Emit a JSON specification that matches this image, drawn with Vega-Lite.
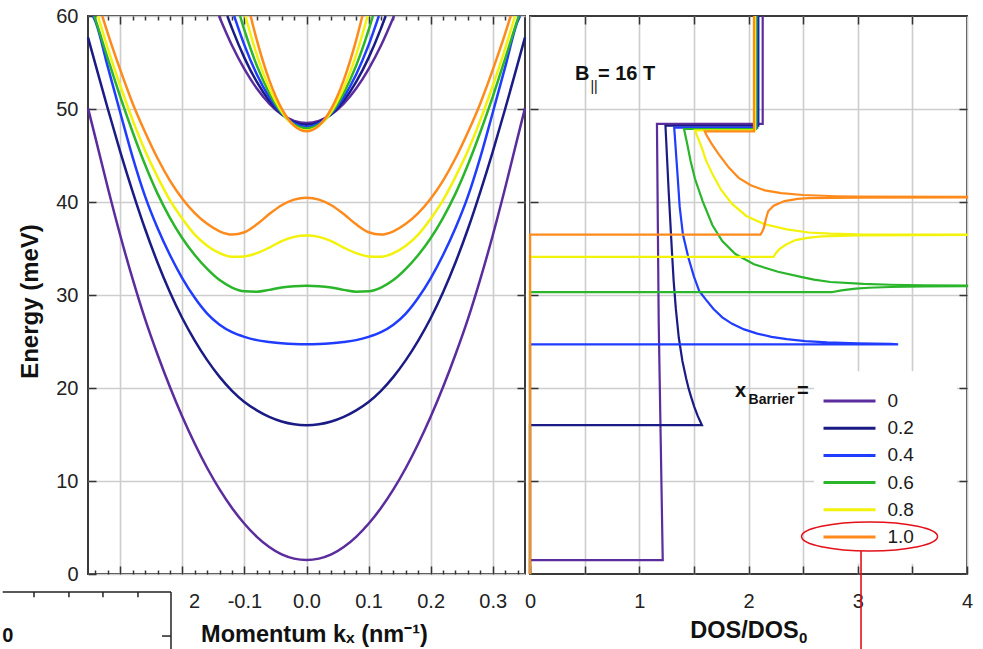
{
  "$schema": "https://vega.github.io/schema/vega-lite/v6.json",
  "background": "white",
  "padding": {"left": 0, "top": 5, "right": 10, "bottom": 0},
  "autosize": {"type": "pad"},
  "bounds": "flush",
  "spacing": 5,
  "config": {
    "font": "Liberation Sans",
    "view": {"stroke": "#3a3a3a", "strokeWidth": 2},
    "axis": {
      "domain": false,
      "labelFlush": false,
      "labelFont": "Liberation Sans",
      "labelFontSize": 20,
      "labelColor": "#222222",
      "titleFont": "Liberation Sans",
      "titleFontSize": 23.5,
      "titleFontWeight": "bold",
      "titleColor": "#111111",
      "gridColor": "#cdcdcd",
      "gridWidth": 1.6,
      "tickColor": "#333333",
      "tickWidth": 1.5
    }
  },
  "datasets": {
    "bands": [
      {"s":"0","b":"L","k":-0.352,"E":50.1},{"s":"0","b":"L","k":-0.34,"E":46.9},{"s":"0","b":"L","k":-0.32,"E":41.5},{"s":"0","b":"L","k":-0.3,"E":36.4},{"s":"0","b":"L","k":-0.28,"E":31.7},{"s":"0","b":"L","k":-0.26,"E":27.4},{"s":"0","b":"L","k":-0.24,"E":23.6},{"s":"0","b":"L","k":-0.22,"E":20.1},{"s":"0","b":"L","k":-0.2,"E":16.9},{"s":"0","b":"L","k":-0.18,"E":14.0},{"s":"0","b":"L","k":-0.16,"E":11.4},{"s":"0","b":"L","k":-0.14,"E":9.1},{"s":"0","b":"L","k":-0.12,"E":7.1},{"s":"0","b":"L","k":-0.1,"E":5.4},{"s":"0","b":"L","k":-0.08,"E":4.0},{"s":"0","b":"L","k":-0.06,"E":2.9},{"s":"0","b":"L","k":-0.04,"E":2.1},{"s":"0","b":"L","k":-0.02,"E":1.65},{"s":"0","b":"L","k":0,"E":1.5},{"s":"0","b":"L","k":0.02,"E":1.65},{"s":"0","b":"L","k":0.04,"E":2.1},{"s":"0","b":"L","k":0.06,"E":2.9},{"s":"0","b":"L","k":0.08,"E":4.0},{"s":"0","b":"L","k":0.1,"E":5.4},{"s":"0","b":"L","k":0.12,"E":7.1},{"s":"0","b":"L","k":0.14,"E":9.1},{"s":"0","b":"L","k":0.16,"E":11.4},{"s":"0","b":"L","k":0.18,"E":14.0},{"s":"0","b":"L","k":0.2,"E":16.9},{"s":"0","b":"L","k":0.22,"E":20.1},{"s":"0","b":"L","k":0.24,"E":23.6},{"s":"0","b":"L","k":0.26,"E":27.4},{"s":"0","b":"L","k":0.28,"E":31.7},{"s":"0","b":"L","k":0.3,"E":36.4},{"s":"0","b":"L","k":0.32,"E":41.5},{"s":"0","b":"L","k":0.34,"E":46.9},{"s":"0","b":"L","k":0.352,"E":50.1},
      {"s":"0","b":"U","k":-0.141,"E":60},{"s":"0","b":"U","k":-0.12,"E":56.82},{"s":"0","b":"U","k":-0.1,"E":54.28},{"s":"0","b":"U","k":-0.08,"E":52.2},{"s":"0","b":"U","k":-0.06,"E":50.58},{"s":"0","b":"U","k":-0.04,"E":49.42},{"s":"0","b":"U","k":-0.02,"E":48.73},{"s":"0","b":"U","k":0,"E":48.5},{"s":"0","b":"U","k":0.02,"E":48.73},{"s":"0","b":"U","k":0.04,"E":49.42},{"s":"0","b":"U","k":0.06,"E":50.58},{"s":"0","b":"U","k":0.08,"E":52.2},{"s":"0","b":"U","k":0.1,"E":54.28},{"s":"0","b":"U","k":0.12,"E":56.82},{"s":"0","b":"U","k":0.141,"E":60},
      {"s":"0.2","b":"L","k":-0.352,"E":57.7},{"s":"0.2","b":"L","k":-0.34,"E":54.8},{"s":"0.2","b":"L","k":-0.32,"E":50.0},{"s":"0.2","b":"L","k":-0.3,"E":45.4},{"s":"0.2","b":"L","k":-0.28,"E":41.1},{"s":"0.2","b":"L","k":-0.26,"E":37.1},{"s":"0.2","b":"L","k":-0.24,"E":33.5},{"s":"0.2","b":"L","k":-0.22,"E":30.3},{"s":"0.2","b":"L","k":-0.2,"E":27.5},{"s":"0.2","b":"L","k":-0.18,"E":25.1},{"s":"0.2","b":"L","k":-0.16,"E":23.0},{"s":"0.2","b":"L","k":-0.14,"E":21.2},{"s":"0.2","b":"L","k":-0.12,"E":19.7},{"s":"0.2","b":"L","k":-0.1,"E":18.5},{"s":"0.2","b":"L","k":-0.08,"E":17.6},{"s":"0.2","b":"L","k":-0.06,"E":16.9},{"s":"0.2","b":"L","k":-0.04,"E":16.4},{"s":"0.2","b":"L","k":-0.02,"E":16.1},{"s":"0.2","b":"L","k":0,"E":16.0},{"s":"0.2","b":"L","k":0.02,"E":16.1},{"s":"0.2","b":"L","k":0.04,"E":16.4},{"s":"0.2","b":"L","k":0.06,"E":16.9},{"s":"0.2","b":"L","k":0.08,"E":17.6},{"s":"0.2","b":"L","k":0.1,"E":18.5},{"s":"0.2","b":"L","k":0.12,"E":19.7},{"s":"0.2","b":"L","k":0.14,"E":21.2},{"s":"0.2","b":"L","k":0.16,"E":23.0},{"s":"0.2","b":"L","k":0.18,"E":25.1},{"s":"0.2","b":"L","k":0.2,"E":27.5},{"s":"0.2","b":"L","k":0.22,"E":30.3},{"s":"0.2","b":"L","k":0.24,"E":33.5},{"s":"0.2","b":"L","k":0.26,"E":37.1},{"s":"0.2","b":"L","k":0.28,"E":41.1},{"s":"0.2","b":"L","k":0.3,"E":45.4},{"s":"0.2","b":"L","k":0.32,"E":50.0},{"s":"0.2","b":"L","k":0.34,"E":54.8},{"s":"0.2","b":"L","k":0.352,"E":57.7},
      {"s":"0.2","b":"U","k":-0.1275,"E":60},{"s":"0.2","b":"U","k":-0.12,"E":58.67},{"s":"0.2","b":"U","k":-0.1,"E":55.5},{"s":"0.2","b":"U","k":-0.08,"E":52.91},{"s":"0.2","b":"U","k":-0.06,"E":50.89},{"s":"0.2","b":"U","k":-0.04,"E":49.45},{"s":"0.2","b":"U","k":-0.02,"E":48.59},{"s":"0.2","b":"U","k":0,"E":48.3},{"s":"0.2","b":"U","k":0.02,"E":48.59},{"s":"0.2","b":"U","k":0.04,"E":49.45},{"s":"0.2","b":"U","k":0.06,"E":50.89},{"s":"0.2","b":"U","k":0.08,"E":52.91},{"s":"0.2","b":"U","k":0.1,"E":55.5},{"s":"0.2","b":"U","k":0.12,"E":58.67},{"s":"0.2","b":"U","k":0.1275,"E":60},
      {"s":"0.4","b":"L","k":-0.344,"E":60},{"s":"0.4","b":"L","k":-0.34,"E":59.4},{"s":"0.4","b":"L","k":-0.32,"E":54.5},{"s":"0.4","b":"L","k":-0.3,"E":49.6},{"s":"0.4","b":"L","k":-0.28,"E":44.8},{"s":"0.4","b":"L","k":-0.26,"E":40.6},{"s":"0.4","b":"L","k":-0.24,"E":37.2},{"s":"0.4","b":"L","k":-0.22,"E":34.3},{"s":"0.4","b":"L","k":-0.2,"E":31.8},{"s":"0.4","b":"L","k":-0.18,"E":29.7},{"s":"0.4","b":"L","k":-0.16,"E":28.0},{"s":"0.4","b":"L","k":-0.14,"E":26.8},{"s":"0.4","b":"L","k":-0.12,"E":26.0},{"s":"0.4","b":"L","k":-0.1,"E":25.5},{"s":"0.4","b":"L","k":-0.08,"E":25.15},{"s":"0.4","b":"L","k":-0.06,"E":24.95},{"s":"0.4","b":"L","k":-0.04,"E":24.8},{"s":"0.4","b":"L","k":-0.02,"E":24.72},{"s":"0.4","b":"L","k":0,"E":24.7},{"s":"0.4","b":"L","k":0.02,"E":24.72},{"s":"0.4","b":"L","k":0.04,"E":24.8},{"s":"0.4","b":"L","k":0.06,"E":24.95},{"s":"0.4","b":"L","k":0.08,"E":25.15},{"s":"0.4","b":"L","k":0.1,"E":25.5},{"s":"0.4","b":"L","k":0.12,"E":26.0},{"s":"0.4","b":"L","k":0.14,"E":26.8},{"s":"0.4","b":"L","k":0.16,"E":28.0},{"s":"0.4","b":"L","k":0.18,"E":29.7},{"s":"0.4","b":"L","k":0.2,"E":31.8},{"s":"0.4","b":"L","k":0.22,"E":34.3},{"s":"0.4","b":"L","k":0.24,"E":37.2},{"s":"0.4","b":"L","k":0.26,"E":40.6},{"s":"0.4","b":"L","k":0.28,"E":44.8},{"s":"0.4","b":"L","k":0.3,"E":49.6},{"s":"0.4","b":"L","k":0.32,"E":54.5},{"s":"0.4","b":"L","k":0.34,"E":59.4},{"s":"0.4","b":"L","k":0.344,"E":60},
      {"s":"0.4","b":"U","k":-0.1165,"E":60},{"s":"0.4","b":"U","k":-0.1,"E":56.87},{"s":"0.4","b":"U","k":-0.08,"E":53.71},{"s":"0.4","b":"U","k":-0.06,"E":51.26},{"s":"0.4","b":"U","k":-0.04,"E":49.5},{"s":"0.4","b":"U","k":-0.02,"E":48.45},{"s":"0.4","b":"U","k":0,"E":48.1},{"s":"0.4","b":"U","k":0.02,"E":48.45},{"s":"0.4","b":"U","k":0.04,"E":49.5},{"s":"0.4","b":"U","k":0.06,"E":51.26},{"s":"0.4","b":"U","k":0.08,"E":53.71},{"s":"0.4","b":"U","k":0.1,"E":56.87},{"s":"0.4","b":"U","k":0.1165,"E":60},
      {"s":"0.6","b":"L","k":-0.342,"E":60},{"s":"0.6","b":"L","k":-0.34,"E":59.6},{"s":"0.6","b":"L","k":-0.32,"E":55.4},{"s":"0.6","b":"L","k":-0.3,"E":51.3},{"s":"0.6","b":"L","k":-0.28,"E":47.5},{"s":"0.6","b":"L","k":-0.26,"E":44.0},{"s":"0.6","b":"L","k":-0.24,"E":40.9},{"s":"0.6","b":"L","k":-0.22,"E":38.3},{"s":"0.6","b":"L","k":-0.2,"E":36.1},{"s":"0.6","b":"L","k":-0.18,"E":34.3},{"s":"0.6","b":"L","k":-0.16,"E":32.8},{"s":"0.6","b":"L","k":-0.14,"E":31.6},{"s":"0.6","b":"L","k":-0.12,"E":30.8},{"s":"0.6","b":"L","k":-0.1,"E":30.4},{"s":"0.6","b":"L","k":-0.08,"E":30.35},{"s":"0.6","b":"L","k":-0.06,"E":30.55},{"s":"0.6","b":"L","k":-0.04,"E":30.8},{"s":"0.6","b":"L","k":-0.02,"E":30.95},{"s":"0.6","b":"L","k":0,"E":31.0},{"s":"0.6","b":"L","k":0.02,"E":30.95},{"s":"0.6","b":"L","k":0.04,"E":30.8},{"s":"0.6","b":"L","k":0.06,"E":30.55},{"s":"0.6","b":"L","k":0.08,"E":30.35},{"s":"0.6","b":"L","k":0.1,"E":30.4},{"s":"0.6","b":"L","k":0.12,"E":30.8},{"s":"0.6","b":"L","k":0.14,"E":31.6},{"s":"0.6","b":"L","k":0.16,"E":32.8},{"s":"0.6","b":"L","k":0.18,"E":34.3},{"s":"0.6","b":"L","k":0.2,"E":36.1},{"s":"0.6","b":"L","k":0.22,"E":38.3},{"s":"0.6","b":"L","k":0.24,"E":40.9},{"s":"0.6","b":"L","k":0.26,"E":44.0},{"s":"0.6","b":"L","k":0.28,"E":47.5},{"s":"0.6","b":"L","k":0.3,"E":51.3},{"s":"0.6","b":"L","k":0.32,"E":55.4},{"s":"0.6","b":"L","k":0.34,"E":59.6},{"s":"0.6","b":"L","k":0.342,"E":60},
      {"s":"0.6","b":"U","k":-0.107,"E":60},{"s":"0.6","b":"U","k":-0.1,"E":58.47},{"s":"0.6","b":"U","k":-0.08,"E":54.66},{"s":"0.6","b":"U","k":-0.06,"E":51.71},{"s":"0.6","b":"U","k":-0.04,"E":49.59},{"s":"0.6","b":"U","k":-0.02,"E":48.32},{"s":"0.6","b":"U","k":0,"E":47.9},{"s":"0.6","b":"U","k":0.02,"E":48.32},{"s":"0.6","b":"U","k":0.04,"E":49.59},{"s":"0.6","b":"U","k":0.06,"E":51.71},{"s":"0.6","b":"U","k":0.08,"E":54.66},{"s":"0.6","b":"U","k":0.1,"E":58.47},{"s":"0.6","b":"U","k":0.107,"E":60},
      {"s":"0.8","b":"L","k":-0.336,"E":60},{"s":"0.8","b":"L","k":-0.32,"E":56.5},{"s":"0.8","b":"L","k":-0.3,"E":52.5},{"s":"0.8","b":"L","k":-0.28,"E":48.8},{"s":"0.8","b":"L","k":-0.26,"E":45.5},{"s":"0.8","b":"L","k":-0.24,"E":42.7},{"s":"0.8","b":"L","k":-0.22,"E":40.2},{"s":"0.8","b":"L","k":-0.2,"E":38.2},{"s":"0.8","b":"L","k":-0.18,"E":36.5},{"s":"0.8","b":"L","k":-0.16,"E":35.3},{"s":"0.8","b":"L","k":-0.14,"E":34.5},{"s":"0.8","b":"L","k":-0.12,"E":34.1},{"s":"0.8","b":"L","k":-0.1,"E":34.15},{"s":"0.8","b":"L","k":-0.08,"E":34.5},{"s":"0.8","b":"L","k":-0.06,"E":35.1},{"s":"0.8","b":"L","k":-0.04,"E":35.8},{"s":"0.8","b":"L","k":-0.02,"E":36.25},{"s":"0.8","b":"L","k":0,"E":36.4},{"s":"0.8","b":"L","k":0.02,"E":36.25},{"s":"0.8","b":"L","k":0.04,"E":35.8},{"s":"0.8","b":"L","k":0.06,"E":35.1},{"s":"0.8","b":"L","k":0.08,"E":34.5},{"s":"0.8","b":"L","k":0.1,"E":34.15},{"s":"0.8","b":"L","k":0.12,"E":34.1},{"s":"0.8","b":"L","k":0.14,"E":34.5},{"s":"0.8","b":"L","k":0.16,"E":35.3},{"s":"0.8","b":"L","k":0.18,"E":36.5},{"s":"0.8","b":"L","k":0.2,"E":38.2},{"s":"0.8","b":"L","k":0.22,"E":40.2},{"s":"0.8","b":"L","k":0.24,"E":42.7},{"s":"0.8","b":"L","k":0.26,"E":45.5},{"s":"0.8","b":"L","k":0.28,"E":48.8},{"s":"0.8","b":"L","k":0.3,"E":52.5},{"s":"0.8","b":"L","k":0.32,"E":56.5},{"s":"0.8","b":"L","k":0.336,"E":60},
      {"s":"0.8","b":"U","k":-0.0985,"E":60},{"s":"0.8","b":"U","k":-0.08,"E":55.82},{"s":"0.8","b":"U","k":-0.06,"E":52.26},{"s":"0.8","b":"U","k":-0.04,"E":49.73},{"s":"0.8","b":"U","k":-0.02,"E":48.21},{"s":"0.8","b":"U","k":0,"E":47.7},{"s":"0.8","b":"U","k":0.02,"E":48.21},{"s":"0.8","b":"U","k":0.04,"E":49.73},{"s":"0.8","b":"U","k":0.06,"E":52.26},{"s":"0.8","b":"U","k":0.08,"E":55.82},{"s":"0.8","b":"U","k":0.0985,"E":60},
      {"s":"1.0","b":"L","k":-0.329,"E":60},{"s":"1.0","b":"L","k":-0.32,"E":58.1},{"s":"1.0","b":"L","k":-0.3,"E":54.2},{"s":"1.0","b":"L","k":-0.28,"E":50.6},{"s":"1.0","b":"L","k":-0.26,"E":47.5},{"s":"1.0","b":"L","k":-0.24,"E":44.7},{"s":"1.0","b":"L","k":-0.22,"E":42.3},{"s":"1.0","b":"L","k":-0.2,"E":40.35},{"s":"1.0","b":"L","k":-0.18,"E":38.8},{"s":"1.0","b":"L","k":-0.16,"E":37.65},{"s":"1.0","b":"L","k":-0.14,"E":36.85},{"s":"1.0","b":"L","k":-0.12,"E":36.5},{"s":"1.0","b":"L","k":-0.1,"E":36.75},{"s":"1.0","b":"L","k":-0.08,"E":37.6},{"s":"1.0","b":"L","k":-0.06,"E":38.7},{"s":"1.0","b":"L","k":-0.04,"E":39.65},{"s":"1.0","b":"L","k":-0.02,"E":40.25},{"s":"1.0","b":"L","k":0,"E":40.45},{"s":"1.0","b":"L","k":0.02,"E":40.25},{"s":"1.0","b":"L","k":0.04,"E":39.65},{"s":"1.0","b":"L","k":0.06,"E":38.7},{"s":"1.0","b":"L","k":0.08,"E":37.6},{"s":"1.0","b":"L","k":0.1,"E":36.75},{"s":"1.0","b":"L","k":0.12,"E":36.5},{"s":"1.0","b":"L","k":0.14,"E":36.85},{"s":"1.0","b":"L","k":0.16,"E":37.65},{"s":"1.0","b":"L","k":0.18,"E":38.8},{"s":"1.0","b":"L","k":0.2,"E":40.35},{"s":"1.0","b":"L","k":0.22,"E":42.3},{"s":"1.0","b":"L","k":0.24,"E":44.7},{"s":"1.0","b":"L","k":0.26,"E":47.5},{"s":"1.0","b":"L","k":0.28,"E":50.6},{"s":"1.0","b":"L","k":0.3,"E":54.2},{"s":"1.0","b":"L","k":0.32,"E":58.1},{"s":"1.0","b":"L","k":0.329,"E":60},
      {"s":"1.0","b":"U","k":-0.09,"E":60},{"s":"1.0","b":"U","k":-0.08,"E":57.4},{"s":"1.0","b":"U","k":-0.06,"E":53.11},{"s":"1.0","b":"U","k":-0.04,"E":50.05},{"s":"1.0","b":"U","k":-0.02,"E":48.21},{"s":"1.0","b":"U","k":0,"E":47.6},{"s":"1.0","b":"U","k":0.02,"E":48.21},{"s":"1.0","b":"U","k":0.04,"E":50.05},{"s":"1.0","b":"U","k":0.06,"E":53.11},{"s":"1.0","b":"U","k":0.08,"E":57.4},{"s":"1.0","b":"U","k":0.09,"E":60}
    ],
    "dos": [
      {"s":"0","d":0,"E":0},{"s":"0","d":0,"E":1.5},{"s":"0","d":1.215,"E":1.5},{"s":"0","d":1.178,"E":27.2},{"s":"0","d":1.162,"E":48.4},{"s":"0","d":2.13,"E":48.4},{"s":"0","d":2.13,"E":60},
      {"s":"0.2","d":0,"E":0},{"s":"0.2","d":0,"E":16},{"s":"0.2","d":1.574,"E":16},{"s":"0.2","d":1.535,"E":17},{"s":"0.2","d":1.503,"E":18},{"s":"0.2","d":1.476,"E":19},{"s":"0.2","d":1.453,"E":19.9},{"s":"0.2","d":1.43,"E":21},{"s":"0.2","d":1.395,"E":22.9},{"s":"0.2","d":1.362,"E":25.4},{"s":"0.2","d":1.335,"E":28.5},{"s":"0.2","d":1.315,"E":31.5},{"s":"0.2","d":1.3,"E":34.5},{"s":"0.2","d":1.27,"E":41},{"s":"0.2","d":1.24,"E":48.2},{"s":"0.2","d":2.09,"E":48.2},{"s":"0.2","d":2.09,"E":60},
      {"s":"0.4","d":0,"E":0},{"s":"0.4","d":0,"E":24.7},{"s":"0.4","d":3.37,"E":24.7},{"s":"0.4","d":3.3,"E":24.75},{"s":"0.4","d":3.0,"E":24.8},{"s":"0.4","d":2.72,"E":24.9},{"s":"0.4","d":2.52,"E":25.05},{"s":"0.4","d":2.35,"E":25.25},{"s":"0.4","d":2.21,"E":25.5},{"s":"0.4","d":2.08,"E":25.85},{"s":"0.4","d":1.96,"E":26.3},{"s":"0.4","d":1.85,"E":26.9},{"s":"0.4","d":1.76,"E":27.6},{"s":"0.4","d":1.68,"E":28.5},{"s":"0.4","d":1.61,"E":29.5},{"s":"0.4","d":1.55,"E":30.4},{"s":"0.4","d":1.5,"E":32},{"s":"0.4","d":1.45,"E":34},{"s":"0.4","d":1.4,"E":36.5},{"s":"0.4","d":1.37,"E":39.5},{"s":"0.4","d":1.35,"E":43},{"s":"0.4","d":1.32,"E":48.0},{"s":"0.4","d":2.08,"E":48.0},{"s":"0.4","d":2.08,"E":60},
      {"s":"0.6","d":0,"E":0},{"s":"0.6","d":0,"E":30.3},{"s":"0.6","d":2.76,"E":30.3},{"s":"0.6","d":2.85,"E":30.5},{"s":"0.6","d":2.98,"E":30.68},{"s":"0.6","d":3.1,"E":30.78},{"s":"0.6","d":3.3,"E":30.86},{"s":"0.6","d":3.6,"E":30.92},{"s":"0.6","d":4.0,"E":30.96},{"s":"0.6","d":4.0,"E":31.0},{"s":"0.6","d":3.6,"E":31.04},{"s":"0.6","d":3.3,"E":31.1},{"s":"0.6","d":3.05,"E":31.2},{"s":"0.6","d":2.75,"E":31.4},{"s":"0.6","d":2.6,"E":31.65},{"s":"0.6","d":2.5,"E":31.9},{"s":"0.6","d":2.27,"E":32.5},{"s":"0.6","d":2.05,"E":33.3},{"s":"0.6","d":1.88,"E":34.4},{"s":"0.6","d":1.76,"E":35.8},{"s":"0.6","d":1.67,"E":37.5},{"s":"0.6","d":1.58,"E":40.1},{"s":"0.6","d":1.51,"E":42.5},{"s":"0.6","d":1.47,"E":44.4},{"s":"0.6","d":1.44,"E":46.2},{"s":"0.6","d":1.41,"E":47.85},{"s":"0.6","d":2.07,"E":47.85},{"s":"0.6","d":2.07,"E":60},
      {"s":"0.8","d":0,"E":0},{"s":"0.8","d":0,"E":34.1},{"s":"0.8","d":2.23,"E":34.1},{"s":"0.8","d":2.25,"E":34.5},{"s":"0.8","d":2.28,"E":34.9},{"s":"0.8","d":2.34,"E":35.4},{"s":"0.8","d":2.43,"E":35.9},{"s":"0.8","d":2.54,"E":36.15},{"s":"0.8","d":2.67,"E":36.3},{"s":"0.8","d":3.0,"E":36.4},{"s":"0.8","d":4.0,"E":36.45},{"s":"0.8","d":4.0,"E":36.5},{"s":"0.8","d":3.0,"E":36.52},{"s":"0.8","d":2.75,"E":36.6},{"s":"0.8","d":2.55,"E":36.72},{"s":"0.8","d":2.35,"E":37.05},{"s":"0.8","d":2.15,"E":37.6},{"s":"0.8","d":1.98,"E":38.5},{"s":"0.8","d":1.85,"E":39.8},{"s":"0.8","d":1.75,"E":41.3},{"s":"0.8","d":1.67,"E":43.0},{"s":"0.8","d":1.61,"E":44.5},{"s":"0.8","d":1.574,"E":45.8},{"s":"0.8","d":1.54,"E":46.8},{"s":"0.8","d":1.51,"E":47.7},{"s":"0.8","d":2.06,"E":47.7},{"s":"0.8","d":2.06,"E":60},
      {"s":"1.0","d":0,"E":0},{"s":"1.0","d":0,"E":36.5},{"s":"1.0","d":2.11,"E":36.5},{"s":"1.0","d":2.125,"E":36.8},{"s":"1.0","d":2.14,"E":37.2},{"s":"1.0","d":2.16,"E":38.2},{"s":"1.0","d":2.18,"E":39.0},{"s":"1.0","d":2.23,"E":39.6},{"s":"1.0","d":2.33,"E":40.1},{"s":"1.0","d":2.45,"E":40.33},{"s":"1.0","d":2.55,"E":40.42},{"s":"1.0","d":3.0,"E":40.48},{"s":"1.0","d":4.0,"E":40.5},{"s":"1.0","d":4.0,"E":40.55},{"s":"1.0","d":3.0,"E":40.58},{"s":"1.0","d":2.8,"E":40.62},{"s":"1.0","d":2.5,"E":40.75},{"s":"1.0","d":2.3,"E":40.95},{"s":"1.0","d":2.15,"E":41.25},{"s":"1.0","d":2.02,"E":41.8},{"s":"1.0","d":1.91,"E":42.6},{"s":"1.0","d":1.82,"E":43.7},{"s":"1.0","d":1.73,"E":45.1},{"s":"1.0","d":1.66,"E":46.3},{"s":"1.0","d":1.61,"E":47.3},{"s":"1.0","d":1.6,"E":47.6},{"s":"1.0","d":2.05,"E":47.6},{"s":"1.0","d":2.05,"E":60}
    ],
    "insetTicks": [{"k": -0.439}, {"k": -0.3827}, {"k": -0.3279}, {"k": -0.2715}]
  },
  "resolve": {"legend": {"color": "independent"}},
  "hconcat": [
    {
      "width": 437,
      "height": 558,
      "resolve": {"axis": {"x": "independent", "y": "independent"}},
      "layer": [
        {
          "data": {"name": "bands"},
          "mark": {"type": "line", "interpolate": "monotone", "strokeWidth": 2.5},
          "encoding": {
            "x": {
              "field": "k", "type": "quantitative",
              "scale": {"domain": [-0.352, 0.352], "nice": false, "zero": false},
              "axis": {
                "orient": "bottom", "values": [-0.3, -0.2, -0.1, 0, 0.1, 0.2, 0.3],
                "labelExpr": "datum.value < -0.001 ? '-' + format(-datum.value, '.1f') : format(abs(datum.value), '.1f')",
                "grid": true, "tickSize": -8, "labelPadding": 25,
                "title": "Momentum kₓ (nm⁻¹)", "titleX": 226, "titleY": 67,
                "titleBaseline": "alphabetic", "titleAlign": "center"
              }
            },
            "y": {
              "field": "E", "type": "quantitative",
              "scale": {"domain": [0, 60], "nice": false, "zero": false},
              "axis": {
                "orient": "left", "values": [0, 10, 20, 30, 40, 50, 60],
                "grid": true, "tickSize": -8, "labelPadding": 18,
                "title": "Energy (meV)", "titleFontSize": 24, "titleX": -51, "titleY": 285, "titleAngle": -90,
                "titleBaseline": "alphabetic", "titleAlign": "center"
              }
            },
            "color": {
              "field": "s", "type": "nominal",
              "scale": {"domain": ["0", "0.2", "0.4", "0.6", "0.8", "1.0"], "range": ["#5b2c9d", "#1b1b86", "#1f3cff", "#2ab52a", "#f2f20a", "#ff8a1c"]},
              "legend": null
            },
            "detail": {"field": "b"}
          }
        },
        {
          "data": {"values": [{}]},
          "mark": {"type": "rect", "fill": "white"},
          "encoding": {
            "x": {
              "datum": -0.4906, "type": "quantitative",
              "axis": {
                "orient": "bottom",
                "values": [-0.34, -0.32, -0.28, -0.26, -0.24, -0.22, -0.18, -0.16, -0.14, -0.12, -0.08, -0.06, -0.04, -0.02, 0.02, 0.04, 0.06, 0.08, 0.12, 0.14, 0.16, 0.18, 0.22, 0.24, 0.26, 0.28, 0.32, 0.34],
                "tickSize": -4, "labels": false, "grid": false, "title": null
              }
            },
            "x2": {"datum": -0.1885},
            "y": {
              "datum": -1.45, "type": "quantitative",
              "axis": {"orient": "right", "values": [10, 20, 30, 40, 50], "tickSize": -8, "labels": false, "grid": false, "title": null}
            },
            "y2": {"datum": -9.6}
          }
        },
        {
          "data": {"values": [{}]},
          "mark": {"type": "rule", "stroke": "#222222", "strokeWidth": 1.5},
          "encoding": {
            "x": {
              "datum": -0.4894, "type": "quantitative",
              "axis": {"orient": "top", "values": [-0.3, -0.2, -0.1, 0, 0.1, 0.2, 0.3], "tickSize": -8, "labels": false, "grid": false, "title": null}
            },
            "x2": {"datum": -0.2183},
            "y": {"datum": -1.935, "type": "quantitative", "axis": null}
          }
        },
        {
          "data": {"name": "insetTicks"},
          "mark": {"type": "rule", "stroke": "#222222", "strokeWidth": 1.5},
          "encoding": {
            "x": {
              "field": "k", "type": "quantitative",
              "axis": {
                "orient": "top",
                "values": [-0.34, -0.32, -0.28, -0.26, -0.24, -0.22, -0.18, -0.16, -0.14, -0.12, -0.08, -0.06, -0.04, -0.02, 0.02, 0.04, 0.06, 0.08, 0.12, 0.14, 0.16, 0.18, 0.22, 0.24, 0.26, 0.28, 0.32, 0.34],
                "tickSize": -4, "labels": false, "grid": false, "title": null
              }
            },
            "y": {"datum": -1.935, "type": "quantitative", "axis": null},
            "y2": {"datum": -2.5}
          }
        },
        {
          "data": {"values": [{}]},
          "mark": {"type": "rule", "stroke": "#222222", "strokeWidth": 1.5},
          "encoding": {
            "x": {"datum": -0.2183, "type": "quantitative", "axis": null},
            "y": {"datum": -1.935, "type": "quantitative", "axis": null},
            "y2": {"datum": -9.6}
          }
        },
        {
          "data": {"values": [{}]},
          "mark": {"type": "rule", "stroke": "#222222", "strokeWidth": 1.5},
          "encoding": {
            "x": {"datum": -0.2328, "type": "quantitative", "axis": null},
            "x2": {"datum": -0.2183},
            "y": {"datum": -6.67, "type": "quantitative", "axis": null}
          }
        },
        {
          "data": {"values": [{}]},
          "mark": {"type": "text", "text": "0", "align": "right", "baseline": "middle", "font": "Liberation Sans", "fontWeight": "bold", "fontSize": 20, "color": "#111111"},
          "encoding": {
            "x": {"datum": -0.4724, "type": "quantitative", "axis": null},
            "y": {"datum": -6.67, "type": "quantitative", "axis": null}
          }
        }
      ]
    },
    {
      "width": 437,
      "height": 558,
      "resolve": {"axis": {"x": "independent", "y": "independent"}},
      "layer": [
        {
          "data": {"values": [{}]},
          "mark": {"type": "rect", "fill": "white"},
          "encoding": {
            "x": {
              "datum": 2.6, "type": "quantitative",
              "axis": {"orient": "top", "values": [0.5, 1, 1.5, 2, 2.5, 3, 3.5], "tickSize": -8, "labels": false, "grid": false, "title": null}
            },
            "x2": {"datum": 3.91},
            "y": {
              "datum": 1.1, "type": "quantitative",
              "axis": {"orient": "right", "values": [10, 20, 30, 40, 50], "tickSize": -8, "labels": false, "grid": false, "title": null}
            },
            "y2": {"datum": 21.8}
          }
        },
        {
          "data": {"name": "dos"},
          "mark": {"type": "line", "strokeWidth": 2.2},
          "encoding": {
            "x": {
              "field": "d", "type": "quantitative",
              "scale": {"domain": [0, 4], "nice": false, "zero": false},
              "axis": {
                "orient": "bottom", "values": [0, 0.5, 1, 1.5, 2, 2.5, 3, 3.5, 4],
                "labelExpr": "datum.value % 1 == 0 ? format(datum.value, 'd') : ''",
                "grid": true, "tickSize": -8, "labelPadding": 25,
                "title": "DOS/DOS", "titleX": 214, "titleY": 63.7, "titleBaseline": "alphabetic", "titleAlign": "center"
              }
            },
            "y": {
              "field": "E", "type": "quantitative",
              "scale": {"domain": [0, 60], "nice": false, "zero": false},
              "axis": {"orient": "left", "values": [10, 20, 30, 40, 50], "grid": true, "tickSize": -8, "labels": false, "title": null}
            },
            "color": {
              "field": "s", "type": "nominal",
              "scale": {"domain": ["0", "0.2", "0.4", "0.6", "0.8", "1.0"], "range": ["#5b2c9d", "#1b1b86", "#1f3cff", "#2ab52a", "#f2f20a", "#ff8a1c"]},
              "legend": {
                "orient": "none", "legendX": 310, "legendY": 375.5, "title": null,
                "direction": "vertical", "columns": 1, "padding": 0,
                "symbolType": "M-5,0H5", "symbolSize": 108, "symbolStrokeWidth": 3,
                "labelFont": "Liberation Sans", "labelFontSize": 19, "labelColor": "#1a1a1a",
                "labelOffset": 28.5, "rowPadding": 7.2
              }
            },
            "order": {"value": null}
          }
        },
        {
          "data": {"values": [{}]},
          "mark": {"type": "text", "text": "0", "align": "left", "baseline": "alphabetic", "font": "Liberation Sans", "fontWeight": "bold", "fontSize": 15, "color": "#111111"},
          "encoding": {
            "x": {"datum": 2.462, "type": "quantitative", "axis": null},
            "y": {"datum": -7.42, "type": "quantitative", "axis": null}
          }
        },
        {
          "data": {"values": [{}]},
          "mark": {
            "type": "point", "filled": false, "stroke": "#e3101a", "strokeWidth": 1.5, "size": 18496, "opacity": 1,
            "shape": "M-1,0C-1,-0.1177,-0.5523,-0.213,0,-0.213C0.5523,-0.213,1,-0.1177,1,0C1,0.1177,0.5523,0.213,0,0.213C-0.5523,0.213,-1,0.1177,-1,0Z"
          },
          "encoding": {
            "x": {"datum": 3.108, "type": "quantitative", "axis": null},
            "y": {"datum": 4.03, "type": "quantitative", "axis": null}
          }
        },
        {
          "data": {"values": [{}]},
          "mark": {"type": "rule", "stroke": "#e3101a", "strokeWidth": 1.6},
          "encoding": {
            "x": {"datum": 3.03, "type": "quantitative", "axis": null},
            "y": {"datum": 2.47, "type": "quantitative", "axis": null},
            "y2": {"datum": -9.6}
          }
        },
        {
          "data": {"values": [{}]},
          "encoding": {
            "x": {"datum": 0.43, "type": "quantitative", "axis": null},
            "y": {"datum": 53.09, "type": "quantitative", "axis": null}
          },
          "layer": [
            {"mark": {"type": "text", "text": "B", "align": "left", "baseline": "alphabetic", "font": "Liberation Sans", "fontWeight": "bold", "fontSize": 20, "dx": -2, "color": "#111111"}},
            {"mark": {"type": "text", "text": "||", "align": "left", "baseline": "alphabetic", "font": "Liberation Sans", "fontSize": 14, "dx": 13.5, "dy": 10.7, "color": "#111111"}},
            {"mark": {"type": "text", "text": "= 16 T", "align": "left", "baseline": "alphabetic", "font": "Liberation Sans", "fontWeight": "bold", "fontSize": 20, "dx": 21, "color": "#111111"}}
          ]
        },
        {
          "data": {"values": [{}]},
          "encoding": {
            "x": {"datum": 1.895, "type": "quantitative", "axis": null},
            "y": {"datum": 19.03, "type": "quantitative", "axis": null}
          },
          "layer": [
            {"mark": {"type": "text", "text": "x", "align": "left", "baseline": "alphabetic", "font": "Liberation Sans", "fontWeight": "bold", "fontSize": 20, "dx": -2, "color": "#111111"}},
            {"mark": {"type": "text", "text": "Barrier", "align": "left", "baseline": "alphabetic", "font": "Liberation Sans", "fontWeight": "bold", "fontSize": 14, "dx": 11.5, "dy": 7, "color": "#111111"}},
            {"mark": {"type": "text", "text": "=", "align": "left", "baseline": "alphabetic", "font": "Liberation Sans", "fontWeight": "bold", "fontSize": 20, "dx": 60, "color": "#111111"}}
          ]
        }
      ]
    }
  ]
}
